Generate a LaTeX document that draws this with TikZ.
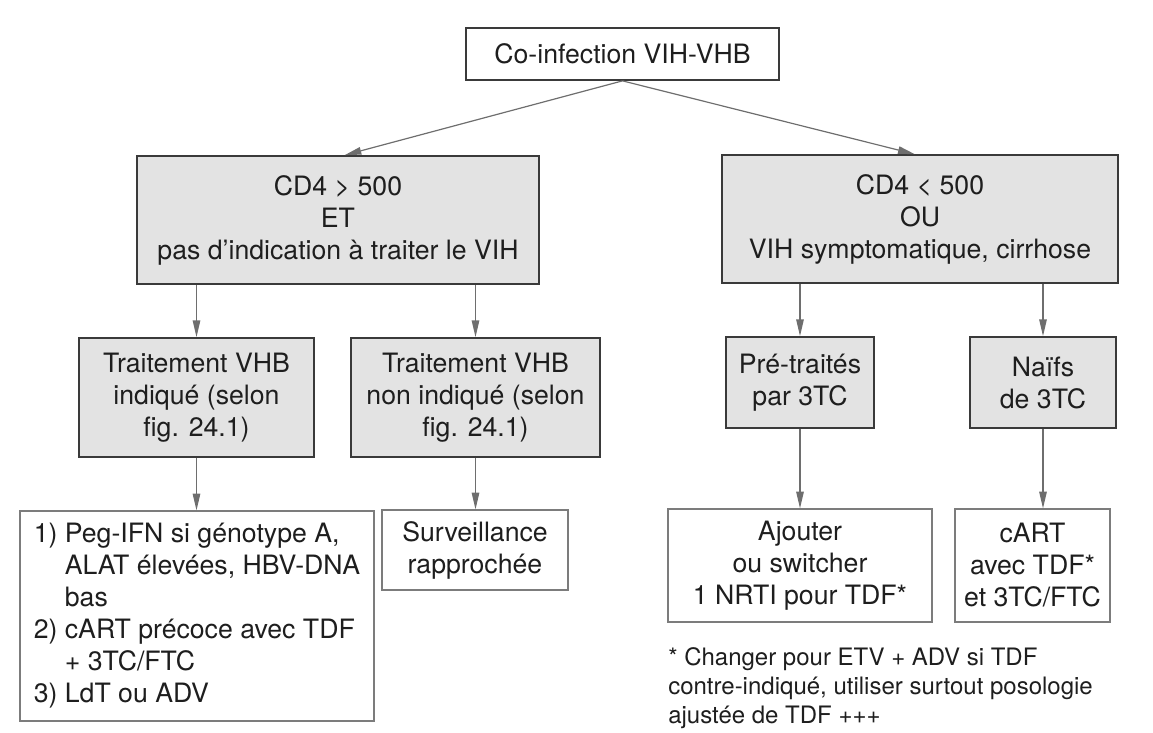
\documentclass[tikz,border=0pt]{standalone}
\usepackage{fontspec}
\setmainfont{TeX Gyre Heros}
\usepackage{xcolor}
\usetikzlibrary{arrows.meta}

\definecolor{fondgris}{HTML}{E3E3E3}
\definecolor{traitfonce}{HTML}{3A3A3A}
\definecolor{traitclair}{HTML}{7C7C7C}
\definecolor{flechegris}{HTML}{6E6E6E}
\definecolor{texte}{HTML}{1E1E1E}

\newcommand{\policeboite}{\fontsize{20pt}{24pt}\selectfont}
\newcommand{\policenote}{\fontsize{18pt}{22pt}\selectfont}

\begin{document}
\begin{tikzpicture}[x=0.75pt,y=-0.75pt,
  boite/.style={draw=traitfonce,line width=1.3pt,fill=fondgris,inner sep=0pt,
    align=center,text=texte,font=\policeboite},
  boiteblanche/.style={boite,fill=white,draw=traitclair,line width=0.9pt},
  fleche/.style={draw=flechegris,line width=0.9pt,
    -{Triangle[length=12.5pt,width=5.6pt]}}]

%% cadre de la figure
\useasboundingbox (0,0) rectangle (1153,732);

%% co-infection
\node[boite,fill=white,minimum width=234.75pt,minimum height=39pt] (coinf) at (622.5,54)
  {Co-infection VIH-VHB};

%% les deux cas selon les CD4
\node[boite,minimum width=301.5pt,minimum height=96pt] (cdsup) at (338,220)
  {CD4 > 500\\ET\\pas d’indication à traiter le VIH};
\node[boite,minimum width=297pt,minimum height=96pt] (cdinf) at (920,219)
  {CD4 < 500\\OU\\VIH symptomatique, cirrhose};

%% traitement VHB ou non
\node[boite,minimum width=176.25pt,minimum height=89.25pt] (indique) at (196.5,397.5)
  {Traitement VHB\\indiqué (selon\\fig. 24.1)};
\node[boite,minimum width=186.75pt,minimum height=89.25pt] (nonind) at (475.5,397.5)
  {Traitement VHB\\non indiqué (selon\\fig. 24.1)};

%% 3TC
\node[boite,minimum width=111pt,minimum height=68.25pt] (pretr) at (800,382.5)
  {Pré-traités\\par 3TC};
\node[boite,minimum width=109.5pt,minimum height=68.25pt] (naifs) at (1043,382.5)
  {Naïfs\\de 3TC};

%% conduites a tenir
\node[boiteblanche,align=left,minimum width=265.5pt,minimum height=157.5pt] (liste) at (197,616)
  {1) Peg-IFN si génotype A,\\
   \phantom{1) }ALAT élevées, HBV-DNA\\
   \phantom{1) }bas\\
   2) cART précoce avec TDF\\
   \phantom{2) }+ 3TC/FTC\\
   3) LdT ou ADV};
\node[boiteblanche,minimum width=139.5pt,minimum height=60pt] (surv) at (475,550)
  {Surveillance\\rapprochée};
\node[boiteblanche,minimum width=198pt,minimum height=84.75pt] (ajout) at (800,565.5)
  {Ajouter\\ou switcher\\1 NRTI pour TDF*};
\node[boiteblanche,minimum width=116.25pt,minimum height=84.75pt] (cart) at (1032.5,565.5)
  {cART\\avec TDF*\\et 3TC/FTC};

%% note
\node[anchor=north west,inner sep=0pt,align=left,text=texte,font=\policenote] (note) at (668,647)
  {* Changer pour ETV + ADV si TDF\\
   contre-indiqué, utiliser surtout posologie\\
   ajustée de TDF +++};

%% fleches
\draw[fleche] (coinf.south) -- ([xshift=5pt]cdsup.north);
\draw[fleche] (coinf.south) -- ([xshift=-4pt]cdinf.north);
\draw[fleche] (indique.north |- cdsup.south) -- (indique.north);
\draw[fleche] (nonind.north |- cdsup.south) -- (nonind.north);
\draw[fleche] (pretr.north |- cdinf.south) -- (pretr.north);
\draw[fleche] (naifs.north |- cdinf.south) -- (naifs.north);
\draw[fleche] (indique.south) -- (indique.south |- liste.north);
\draw[fleche] (nonind.south) -- (nonind.south |- surv.north);
\draw[fleche] (pretr.south) -- (ajout.north);
\draw[fleche] (naifs.south) -- (naifs.south |- cart.north);

\end{tikzpicture}
\end{document}
